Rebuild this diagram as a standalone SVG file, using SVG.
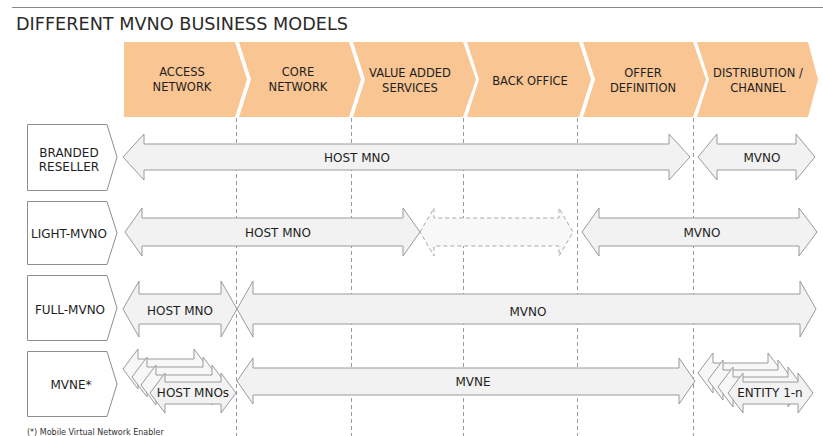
<svg xmlns="http://www.w3.org/2000/svg" width="823" height="436" viewBox="0 0 823 436">
<style>
.t{font-family:"DejaVu Sans","Verdana",sans-serif;fill:#1e1e1e;text-anchor:middle}
.hd{font-size:11.5px}
.lb{font-size:12px}
.ar{font-size:12px}
.chev{fill:#F8C593;stroke:none}
.box{fill:#fff;stroke:#8f8f8f;stroke-width:1}
.arr{fill:#f2f2f2;stroke:#9a9a9a;stroke-width:1;stroke-linejoin:miter}
.stk{fill:#f7f7f7;stroke:#9a9a9a;stroke-width:1}
.dash{fill:#f8f8f8;stroke:#a8a8a8;stroke-width:1;stroke-dasharray:4 3}
.grid{stroke:#9a9a9a;stroke-width:1;stroke-dasharray:4 3;fill:none}
</style>
<rect width="823" height="436" fill="#fff"/>
<line x1="12" y1="7.5" x2="823" y2="7.5" stroke="#888" stroke-width="1"/>
<text x="16" y="30" font-family="DejaVu Sans, Verdana, sans-serif" font-size="18" fill="#2a2a2a" textLength="332" lengthAdjust="spacingAndGlyphs">DIFFERENT MVNO BUSINESS MODELS</text>

<g id="header">
<g id="h-access"><path class="chev" d="M124,42 L235,42 L247,79.5 L235,117 L124,117 Z"/><text class="t hd" x="182" y="76">ACCESS</text><text class="t hd" x="182" y="91">NETWORK</text></g>
<g id="h-core"><path class="chev" d="M239,42 L349,42 L361,79.5 L349,117 L239,117 L251,79.5 Z"/><text class="t hd" x="298" y="76">CORE</text><text class="t hd" x="298" y="91">NETWORK</text></g>
<g id="h-vas"><path class="chev" d="M353,42 L463,42 L476,79.5 L463,117 L353,117 L365,79.5 Z"/><text class="t hd" x="410" y="77">VALUE ADDED</text><text class="t hd" x="410" y="92">SERVICES</text></g>
<g id="h-back"><path class="chev" d="M467,42 L579,42 L591,79.5 L579,117 L467,117 L479,79.5 Z"/><text class="t hd" x="530" y="85">BACK OFFICE</text></g>
<g id="h-offer"><path class="chev" d="M583,42 L693,42 L706,79.5 L693,117 L583,117 L595,79.5 Z"/><text class="t hd" x="643" y="77">OFFER</text><text class="t hd" x="643" y="92">DEFINITION</text></g>
<g id="h-dist"><path class="chev" d="M697,42 L808,42 L818,79.5 L808,117 L697,117 L709,79.5 Z"/><text class="t hd" x="758" y="77">DISTRIBUTION /</text><text class="t hd" x="758" y="92">CHANNEL</text></g>
</g>

<g id="gridlines">
<line class="grid" x1="236.5" y1="118" x2="236.5" y2="436"/>
<line class="grid" x1="351.5" y1="118" x2="351.5" y2="436"/>
<line class="grid" x1="463.5" y1="118" x2="463.5" y2="436"/>
<line class="grid" x1="577.5" y1="118" x2="577.5" y2="436"/>
<line class="grid" x1="693.5" y1="118" x2="693.5" y2="436"/>
</g>

<g id="row-branded">
<path class="box" d="M27.5,124.5 L107,124.5 L117,157 L107,190.5 L27.5,190.5 Z"/>
<text class="t lb" x="69" y="157">BRANDED</text><text class="t lb" x="69" y="171">RESELLER</text>
</g>
<g id="row-light">
<path class="box" d="M27.5,201.5 L107,201.5 L117,233 L107,264.5 L27.5,264.5 Z"/>
<text class="t lb" x="69" y="238">LIGHT-MVNO</text>
</g>
<g id="row-full">
<path class="box" d="M27.5,275.5 L107,275.5 L117,308 L107,340.5 L27.5,340.5 Z"/>
<text class="t lb" x="70" y="314">FULL-MVNO</text>
</g>
<g id="row-mvne">
<path class="box" d="M27.5,351.5 L107,351.5 L117,384 L107,416.5 L27.5,416.5 Z"/>
<text class="t lb" x="71" y="389">MVNE*</text>
</g>

<g id="connectors">
<!-- row 1 -->
<g id="r1-host">
<path class="arr" d="M123,157 L144,134 L144,144 L669,144 L669,134 L690,157 L669,180 L669,170 L144,170 L144,180 Z"/>
<text class="t ar" x="357" y="162">HOST MNO</text>
</g>
<g id="r1-mvno">
<path class="arr" d="M698,157 L717,134 L717,144 L796,144 L796,134 L815,157 L796,180 L796,170 L717,170 L717,180 Z"/>
<text class="t ar" x="762" y="162">MVNO</text>
</g>
<!-- row 2 -->
<g id="r2-host">
<path class="arr" d="M125,232 L142,208 L142,218 L403,218 L403,208 L420,232 L403,256 L403,246 L142,246 L142,256 Z"/>
<text class="t ar" x="278" y="237">HOST MNO</text>
</g>
<g id="r2-dashed">
<path class="dash" d="M420,232 L434,208 L434,218 L559,218 L559,208 L573,232 L559,256 L559,246 L434,246 L434,256 Z"/>
</g>
<g id="r2-mvno">
<path class="arr" d="M582,232 L599,208 L599,218 L799,218 L799,208 L817,232 L799,256 L799,246 L599,246 L599,256 Z"/>
<text class="t ar" x="702" y="237">MVNO</text>
</g>
<!-- row 3 -->
<g id="r3-host">
<path class="arr" d="M123,309 L139,281 L139,294 L221,294 L221,281 L237,309 L221,337 L221,324 L139,324 L139,337 Z"/>
<text class="t ar" x="180" y="315">HOST MNO</text>
</g>
<g id="r3-mvno">
<path class="arr" d="M237,309 L253,281 L253,294 L800,294 L800,281 L816,309 L800,337 L800,324 L253,324 L253,337 Z"/>
<text class="t ar" x="528" y="316">MVNO</text>
</g>
<!-- row 4 -->
<g id="r4-hosts">
<path class="stk" d="M123,369 L138,349 L138,359 L194,359 L194,349 L209,369 L194,389 L194,379 L138,379 L138,389 Z"/>
<path class="stk" d="M132,377 L147,357 L147,367 L203,367 L203,357 L218,377 L203,397 L203,387 L147,387 L147,397 Z"/>
<path class="stk" d="M141,385 L156,365 L156,375 L212,375 L212,365 L227,385 L212,405 L212,395 L156,395 L156,405 Z"/>
<path class="arr" d="M150,393 L165,373 L165,382 L221,382 L221,373 L236,393 L221,413 L221,404 L165,404 L165,413 Z"/>
<text class="t ar" x="193" y="397">HOST MNOs</text>
</g>
<g id="r4-mvne">
<path class="arr" d="M237,381 L253,358 L253,368 L679,368 L679,358 L695,381 L679,404 L679,395 L253,395 L253,404 Z"/>
<text class="t ar" x="473" y="386">MVNE</text>
</g>
<g id="r4-entity">
<path class="stk" d="M698,373 L713,353 L713,363 L768,363 L768,353 L783,373 L768,393 L768,383 L713,383 L713,393 Z"/>
<path class="stk" d="M708,380 L723,360 L723,370 L778,370 L778,360 L793,380 L778,400 L778,390 L723,390 L723,400 Z"/>
<path class="stk" d="M718,387 L733,367 L733,377 L788,377 L788,367 L803,387 L788,407 L788,397 L733,397 L733,407 Z"/>
<path class="arr" d="M728,393 L743,373 L743,382 L798,382 L798,373 L813,393 L798,413 L798,404 L743,404 L743,413 Z"/>
<text class="t ar" x="770" y="397">ENTITY 1-n</text>
</g>
</g>

<text x="27" y="435" font-family="DejaVu Sans, Verdana, sans-serif" font-size="8" fill="#333">(*) Mobile Virtual Network Enabler</text>
</svg>
